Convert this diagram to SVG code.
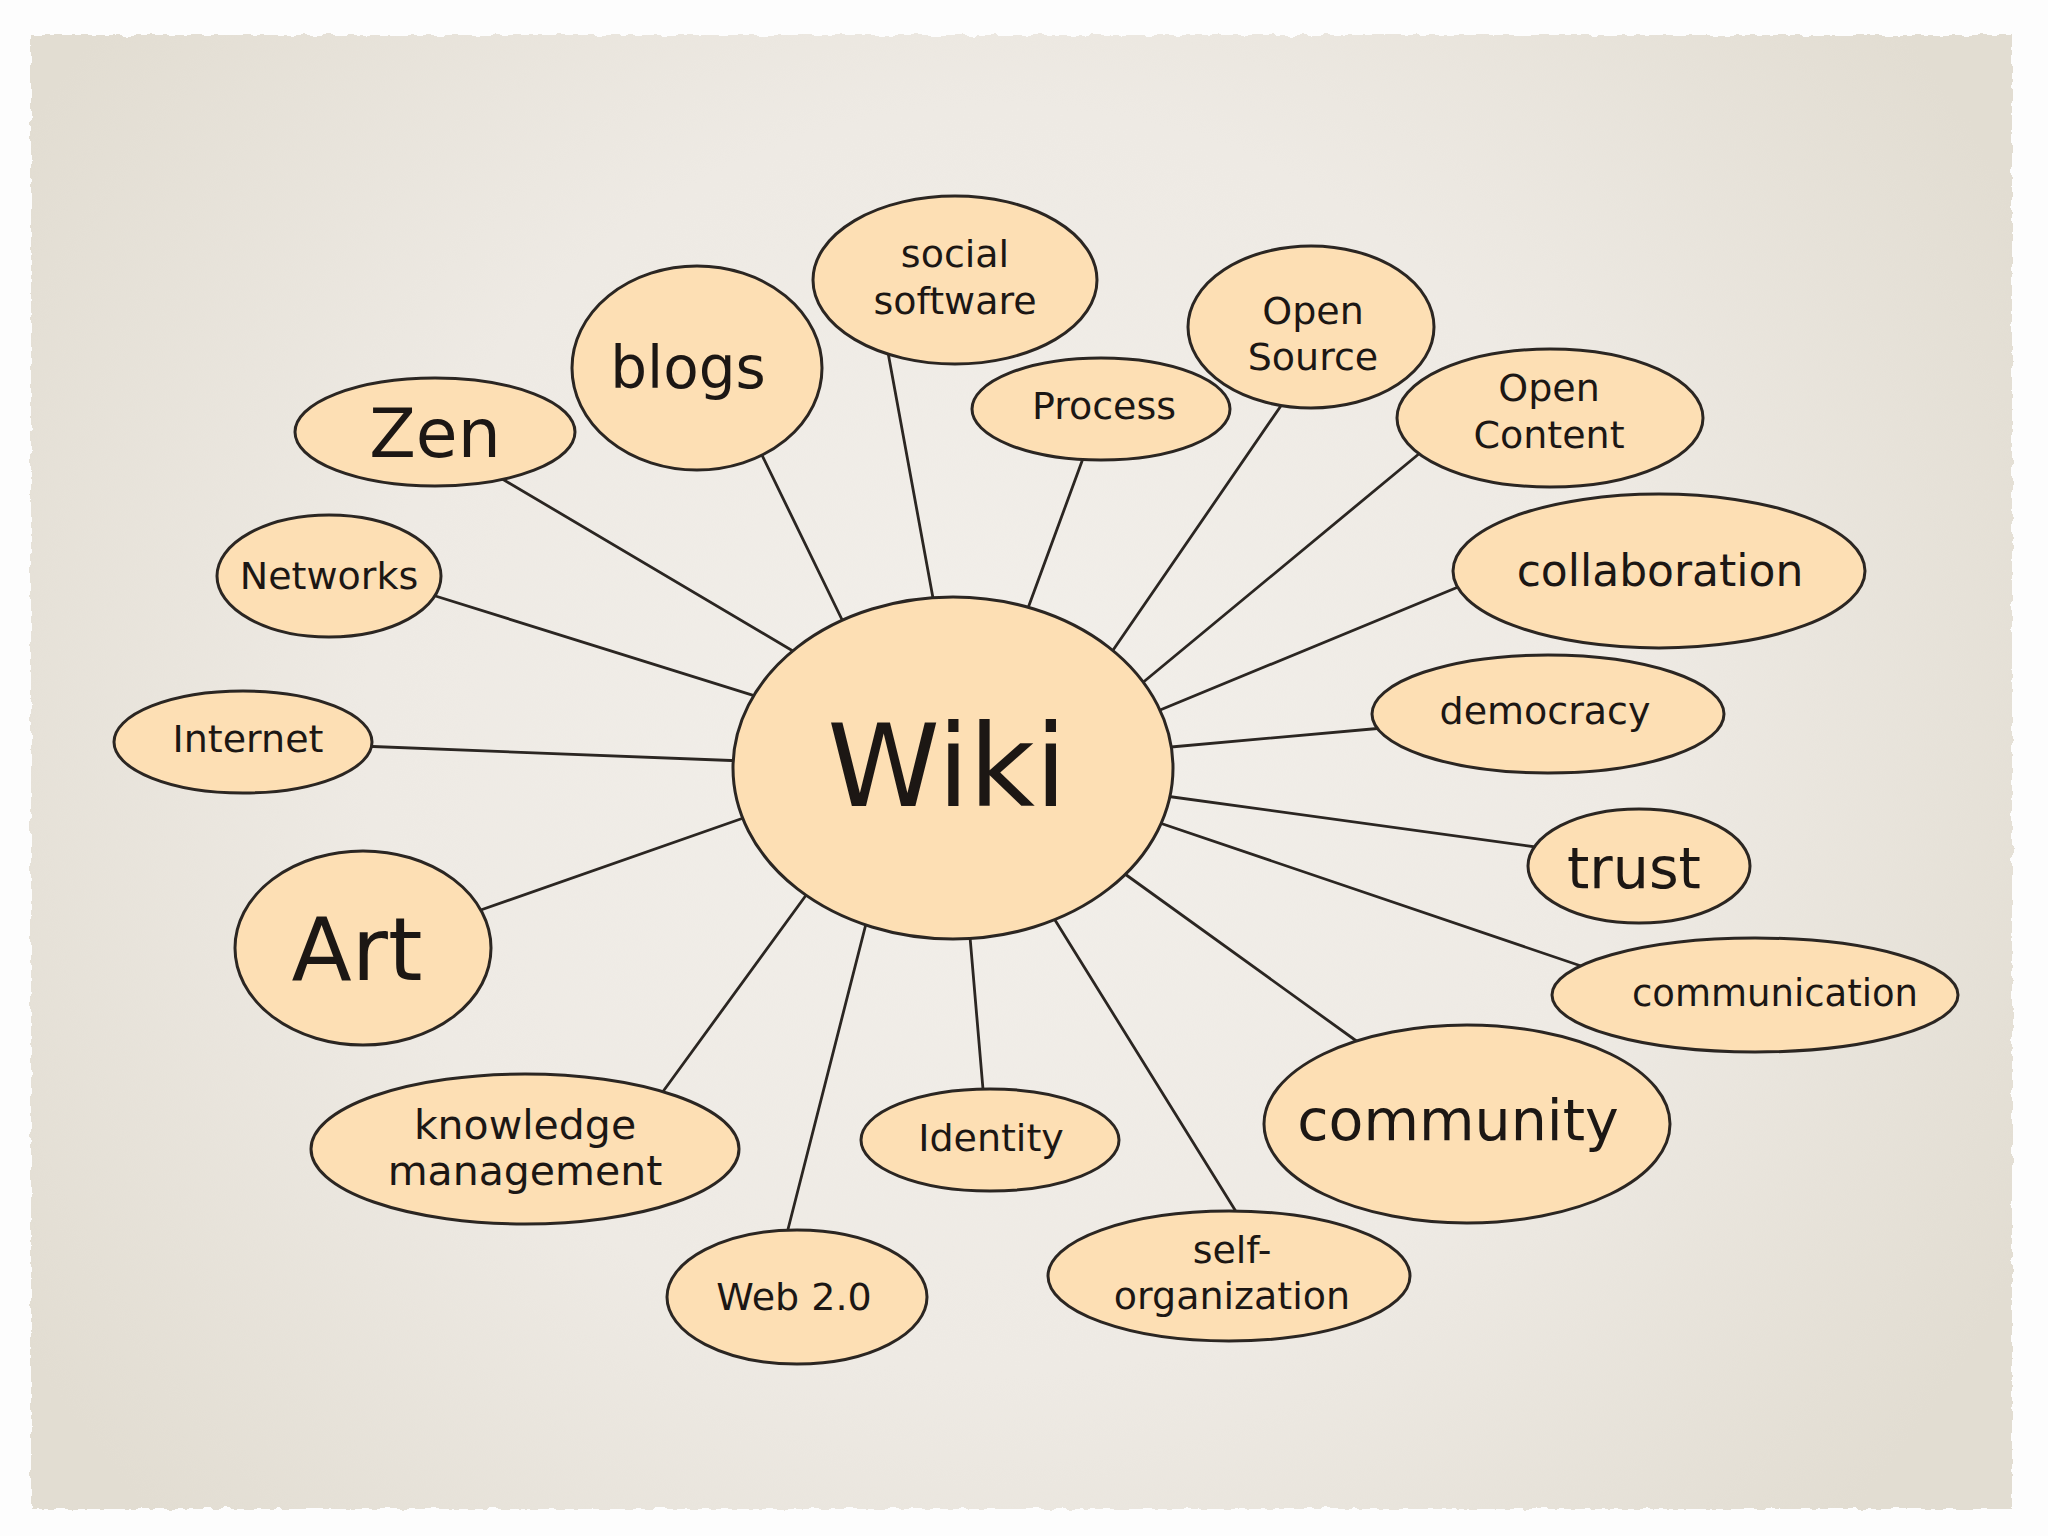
<svg xmlns="http://www.w3.org/2000/svg" width="2048" height="1536" viewBox="0 0 2048 1536">
<defs>
<radialGradient id="paperGrad" cx="1000" cy="740" r="1150" gradientUnits="userSpaceOnUse">
<stop offset="0" stop-color="#f2efea"/>
<stop offset="0.55" stop-color="#eeeae4"/>
<stop offset="1" stop-color="#e2ddd2"/>
</radialGradient>
<filter id="rough" x="-2%" y="-2%" width="104%" height="104%">
<feTurbulence type="fractalNoise" baseFrequency="0.09" numOctaves="2" seed="3" result="n"/>
<feDisplacementMap in="SourceGraphic" in2="n" scale="7" xChannelSelector="R" yChannelSelector="G"/>
</filter>
<style>
.node ellipse{fill:#fddfb4;stroke:#2b2622;stroke-width:3}
.node text{font-family:"DejaVu Sans","Liberation Sans",sans-serif;fill:#1c1714;text-anchor:middle}
.t38{font-size:38px}
.conn line{stroke:#2b2622;stroke-width:2.8;stroke-linecap:round}
</style>
</defs>
<rect x="0" y="0" width="2048" height="1536" fill="#fdfdfd"/>
<rect x="31" y="35" width="1981" height="1474" fill="url(#paperGrad)" filter="url(#rough)"/>

<g id="connectors" class="conn">
<line x1="499" y1="477" x2="803" y2="657"/>
<line x1="759" y1="449" x2="849" y2="634"/>
<line x1="887" y1="347" x2="935" y2="609"/>
<line x1="1085" y1="453" x2="1024" y2="619"/>
<line x1="1287" y1="397" x2="1109" y2="656"/>
<line x1="1426" y1="448" x2="1135" y2="689"/>
<line x1="1463" y1="585" x2="1148" y2="715"/>
<line x1="1383" y1="728" x2="1160" y2="748"/>
<line x1="1543" y1="848" x2="1158" y2="795"/>
<line x1="1587" y1="968" x2="1151" y2="820"/>
<line x1="1362" y1="1045" x2="1118" y2="869"/>
<line x1="1240" y1="1218" x2="1050" y2="912"/>
<line x1="984" y1="1101" x2="969" y2="925"/>
<line x1="785" y1="1241" x2="869" y2="912"/>
<line x1="659" y1="1097" x2="812" y2="887"/>
<line x1="475" y1="912" x2="752" y2="815"/>
<line x1="360" y1="746" x2="744" y2="761"/>
<line x1="429" y1="594" x2="765" y2="699"/>
</g>

<g id="wiki" class="node"><ellipse cx="953" cy="768" rx="220" ry="171"/><text x="947" y="806" font-size="114">Wiki</text></g>
<g id="social-software" class="node"><ellipse cx="955" cy="280" rx="142" ry="84"/><text class="t38" x="955" y="267">social</text><text class="t38" x="955" y="314">software</text></g>
<g id="blogs" class="node"><ellipse cx="697" cy="368" rx="125" ry="102"/><text x="688" y="388" font-size="58">blogs</text></g>
<g id="zen" class="node"><ellipse cx="435" cy="432" rx="140" ry="54"/><text x="435" y="457" font-size="68">Zen</text></g>
<g id="networks" class="node"><ellipse cx="329" cy="576" rx="112" ry="61"/><text class="t38" x="329" y="589">Networks</text></g>
<g id="internet" class="node"><ellipse cx="243" cy="742" rx="129" ry="51"/><text class="t38" x="248" y="752">Internet</text></g>
<g id="art" class="node"><ellipse cx="363" cy="948" rx="128" ry="97"/><text x="357" y="980" font-size="88">Art</text></g>
<g id="knowledge-management" class="node"><ellipse cx="525" cy="1149" rx="214" ry="75"/><text x="525" y="1139" font-size="41">knowledge</text><text x="525" y="1185" font-size="41">management</text></g>
<g id="web20" class="node"><ellipse cx="797" cy="1297" rx="130" ry="67"/><text class="t38" x="794" y="1310">Web 2.0</text></g>
<g id="identity" class="node"><ellipse cx="990" cy="1140" rx="129" ry="51"/><text class="t38" x="991" y="1151">Identity</text></g>
<g id="self-organization" class="node"><ellipse cx="1229" cy="1276" rx="181" ry="65"/><text class="t38" x="1232" y="1263">self-</text><text class="t38" x="1232" y="1309">organization</text></g>
<g id="community" class="node"><ellipse cx="1467" cy="1124" rx="203" ry="99"/><text x="1458" y="1140" font-size="57">community</text></g>
<g id="communication" class="node"><ellipse cx="1755" cy="995" rx="203" ry="57"/><text x="1775" y="1006" font-size="37">communication</text></g>
<g id="trust" class="node"><ellipse cx="1639" cy="866" rx="111" ry="57"/><text x="1634" y="888" font-size="57">trust</text></g>
<g id="democracy" class="node"><ellipse cx="1548" cy="714" rx="176" ry="59"/><text class="t38" x="1545" y="724">democracy</text></g>
<g id="collaboration" class="node"><ellipse cx="1659" cy="571" rx="206" ry="77"/><text x="1660" y="586" font-size="44">collaboration</text></g>
<g id="open-content" class="node"><ellipse cx="1550" cy="418" rx="153" ry="69"/><text class="t38" x="1549" y="401">Open</text><text class="t38" x="1549" y="448">Content</text></g>
<g id="open-source" class="node"><ellipse cx="1311" cy="327" rx="123" ry="81"/><text class="t38" x="1313" y="324">Open</text><text class="t38" x="1313" y="370">Source</text></g>
<g id="process" class="node"><ellipse cx="1101" cy="409" rx="129" ry="51"/><text class="t38" x="1104" y="419">Process</text></g>
</svg>
